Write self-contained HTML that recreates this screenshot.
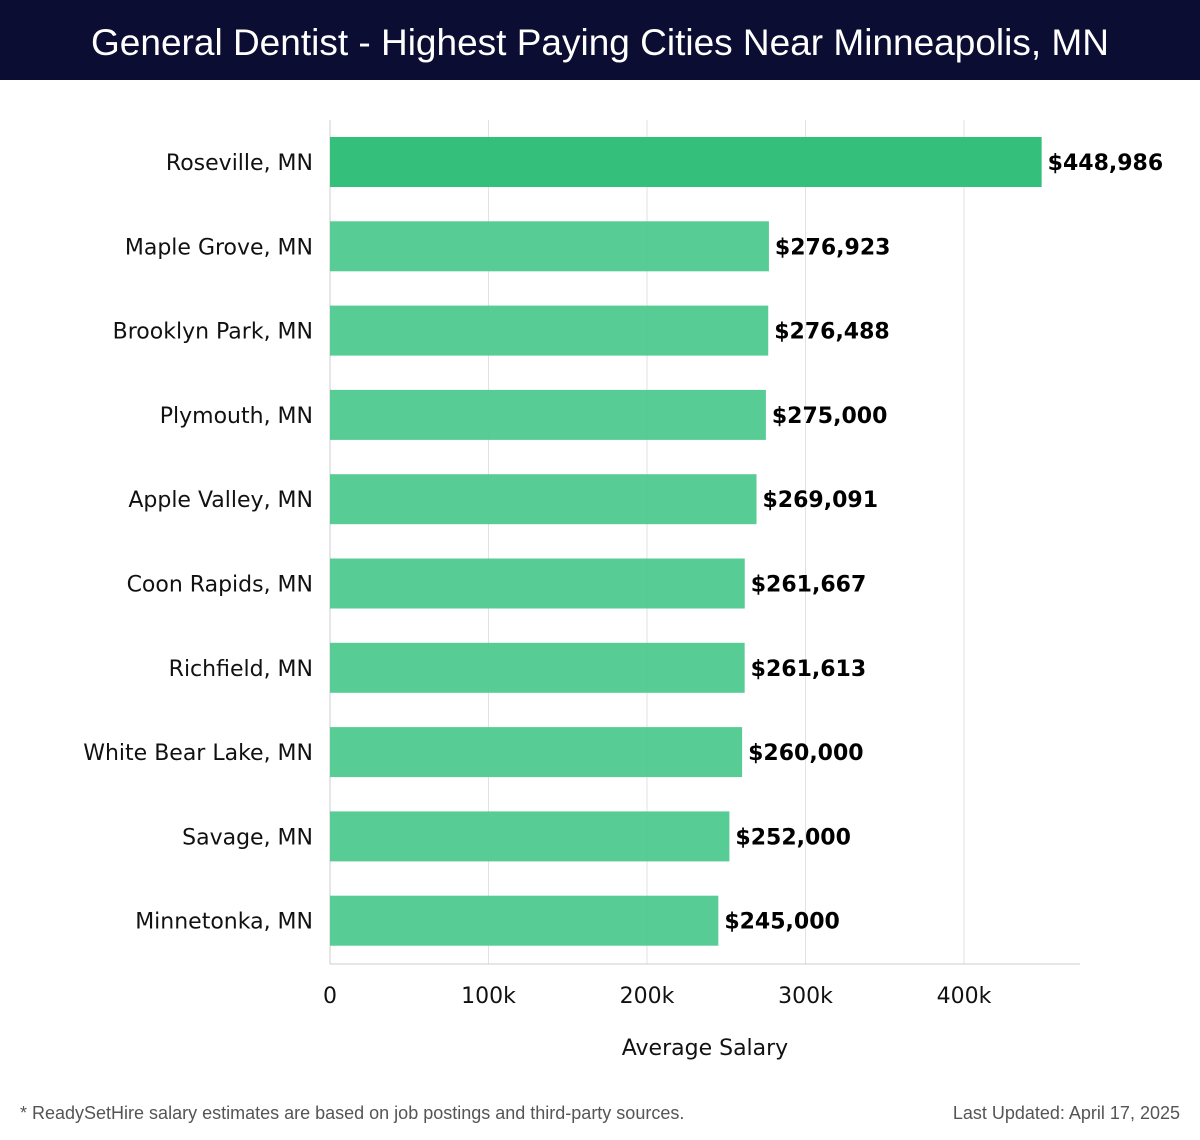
<!DOCTYPE html>
<html><head><meta charset="utf-8"><style>
body{margin:0;width:1200px;height:1140px;background:#fff;font-family:"DejaVu Sans","Liberation Sans",sans-serif;overflow:hidden}
#hdr{position:absolute;left:0;top:0;width:1200px;height:80px;background:#0c0d33;color:#fff;font-size:37px;text-align:center;line-height:86px;font-family:"Liberation Sans",sans-serif}
</style></head><body>
<div id="hdr">General Dentist - Highest Paying Cities Near Minneapolis, MN</div>
<svg id="chart" width="1200" height="1140" style="position:absolute;left:0;top:0"></svg>
<script>
const categories=["Roseville, MN","Maple Grove, MN","Brooklyn Park, MN","Plymouth, MN","Apple Valley, MN","Coon Rapids, MN","Richfield, MN","White Bear Lake, MN","Savage, MN","Minnetonka, MN"];
const values=[448986,276923,276488,275000,269091,261667,261613,260000,252000,245000];
const ticks=[0,100000,200000,300000,400000];
const tickLabels=["0","100k","200k","300k","400k"];
const svg=document.getElementById('chart');
const NS='http://www.w3.org/2000/svg';
const x0=330,pxPer=634/400000,top0=120,step=84.3;
const xs=v=>x0+v*pxPer;
const yc=i=>top0+42+i*step;
function mk(t,a,txt){const e=document.createElementNS(NS,t);for(const k in a)e.setAttribute(k,a[k]);if(txt!==undefined)e.textContent=txt;svg.appendChild(e);return e;}
ticks.forEach((t,i)=>{
 const g=mk('line',{x1:xs(t),x2:xs(t),y1:top0,y2:964,stroke:i?'#e2e2e2':'#cccccc','stroke-width':1});
 
 const l=mk('text',{x:xs(t),y:1003,'text-anchor':'middle','font-size':22,fill:'#111'},tickLabels[i]);
 
});
const ax=mk('line',{x1:x0,x2:1080,y1:964,y2:964,stroke:'#cccccc'});

categories.forEach((c,i)=>{
 const r=mk('rect',{x:x0,y:yc(i)-25,width:xs(values[i])-x0,height:50,fill:i==0?'#2dbe76':'#52ca91',opacity:0.97});
 
 const l=mk('text',{x:313,y:yc(i)+8,'text-anchor':'end','font-size':22,fill:'#111'},c);
 
 const v=mk('text',{x:xs(values[i])+6,y:yc(i)+8,'font-size':22,'font-weight':'bold',fill:'#000'},'$'+values[i].toLocaleString('en-US'));
 
});
const at=mk('text',{x:705,y:1055,'text-anchor':'middle','font-size':22,fill:'#111'},'Average Salary');

const f1=mk('text',{x:20,y:1119,'font-size':18,fill:'#555','font-family':'Liberation Sans, sans-serif'},'* ReadySetHire salary estimates are based on job postings and third-party sources.');

const f2=mk('text',{x:1180,y:1119,'text-anchor':'end','font-size':18,fill:'#555','font-family':'Liberation Sans, sans-serif'},'Last Updated: April 17, 2025');

</script>
</body></html>
